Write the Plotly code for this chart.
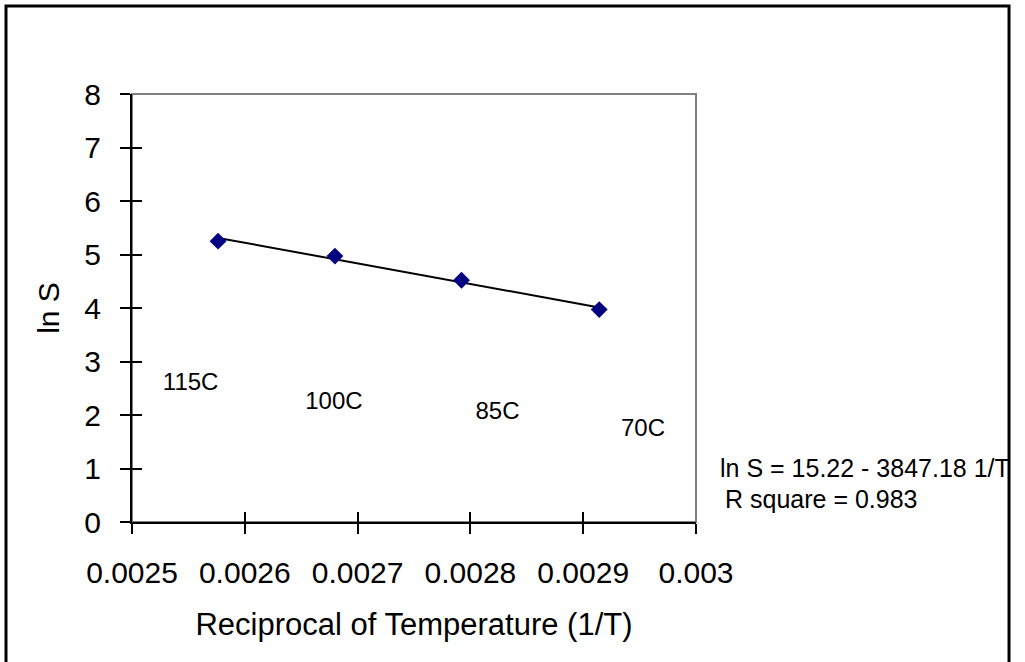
import plotly.graph_objects as go

# Data
recip_T = [0.0025763, 0.0026799, 0.0027921, 0.0029142]
ln_S = [5.25, 4.97, 4.52, 3.97]
trend_y = [5.31, 4.91, 4.48, 4.01]

temp_labels = ["115C", "100C", "85C", "70C"]
label_x = [0.002552, 0.002679, 0.002824, 0.002953]
label_y = [2.58, 2.22, 2.04, 1.72]

x_ticks = [0.0025, 0.0026, 0.0027, 0.0028, 0.0029, 0.003]
x_ticktext = ["0.0025", "0.0026", "0.0027", "0.0028", "0.0029", "0.003"]
y_ticks = [0, 1, 2, 3, 4, 5, 6, 7, 8]
x_range = [0.0025, 0.003]
y_range = [0, 8]

equation_text = "ln S = 15.22 - 3847.18 1/T"
rsq_text = "R square = 0.983"

FONT = "Arial, Liberation Sans, sans-serif"

fig = go.Figure()

fig.add_trace(go.Scatter(x=recip_T, y=trend_y, mode="lines",
                         line=dict(color="black", width=2), showlegend=False))
fig.add_trace(go.Scatter(x=recip_T, y=ln_S, mode="markers",
                         marker=dict(symbol="diamond", size=13, color="#000080"),
                         showlegend=False))
# labels on the overlay axes (which carry the inside half of the cross ticks)
fig.add_trace(go.Scatter(x=label_x, y=label_y, mode="text", text=temp_labels,
                         xaxis="x2", yaxis="y2",
                         textfont=dict(family=FONT, size=24, color="black"),
                         showlegend=False, hoverinfo="skip"))

# gray frame (top/right) of the plot area
fig.add_shape(type="rect", xref="x domain", yref="y domain", x0=0, x1=1, y0=0, y1=1,
              line=dict(color="#808080", width=2), layer="below")
# outer border
fig.add_shape(type="rect", xref="paper", yref="paper",
              x0=-0.2234, x1=1.555, y0=-0.40, y1=1.2056,
              line=dict(color="black", width=3))

fig.add_annotation(xref="paper", yref="paper", x=(718 - 132) / 564, y=(522 - 468) / 428,
                   text=equation_text, showarrow=False, xanchor="left", yanchor="middle",
                   font=dict(family=FONT, size=25, color="black"))
fig.add_annotation(xref="paper", yref="paper", x=(723 - 132) / 564, y=(522 - 499) / 428,
                   text=rsq_text, showarrow=False, xanchor="left", yanchor="middle",
                   font=dict(family=FONT, size=25, color="black"))

fig.update_layout(
    width=1025, height=662,
    margin=dict(l=132, r=329, t=94, b=140),
    paper_bgcolor="white", plot_bgcolor="white",
    font=dict(family=FONT, color="black"),
    xaxis=dict(range=x_range, tickvals=x_ticks, ticktext=x_ticktext,
               ticks="outside", ticklen=10, tickwidth=2, tickcolor="black",
               showline=True, linecolor="black", linewidth=2, showgrid=False, zeroline=False,
               tickfont=dict(size=30), ticklabelstandoff=13,
               title=dict(text="Reciprocal of Temperature (1/T)", font=dict(size=31), standoff=25)),
    yaxis=dict(range=y_range, tickvals=y_ticks,
               ticks="outside", ticklen=10, tickwidth=2, tickcolor="black",
               showline=True, linecolor="black", linewidth=2, showgrid=False, zeroline=False,
               tickfont=dict(size=30), ticklabelstandoff=13,
               title=dict(text="ln S", font=dict(size=30), standoff=16)),
    xaxis2=dict(overlaying="x", range=x_range, tickvals=x_ticks, side="bottom",
                ticks="inside", ticklen=10, tickwidth=2, tickcolor="black",
                showticklabels=False, showline=False, showgrid=False, zeroline=False),
    yaxis2=dict(overlaying="y", range=y_range, tickvals=y_ticks, side="left",
                ticks="inside", ticklen=10, tickwidth=2, tickcolor="black",
                showticklabels=False, showline=False, showgrid=False, zeroline=False),
)

fig.write_html("out.html")
